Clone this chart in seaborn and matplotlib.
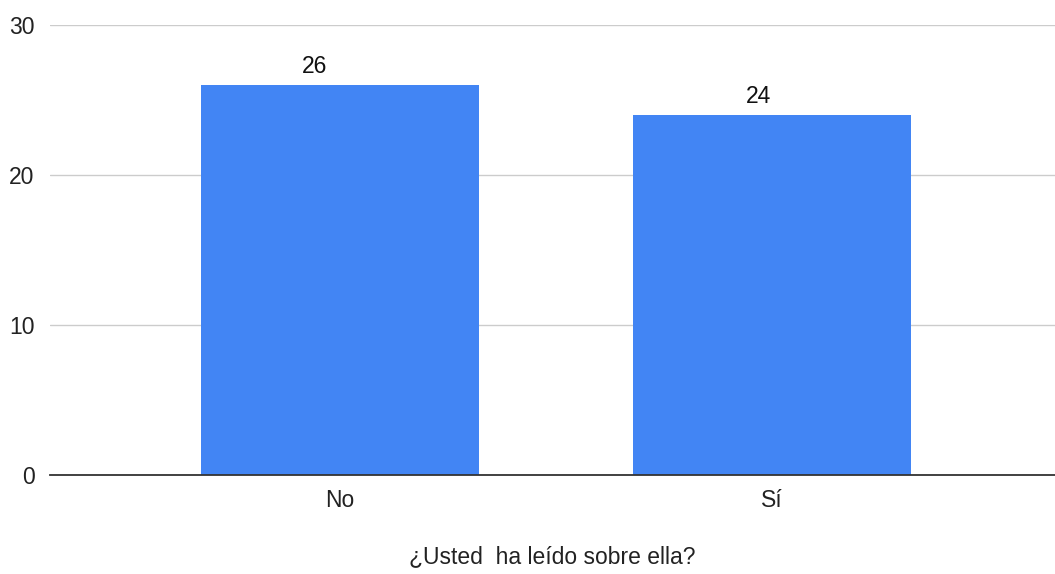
import matplotlib
matplotlib.use("Agg")
import matplotlib.pyplot as plt
import seaborn as sns
import pandas as pd

categories = ["No", "Sí"]
counts = [26, 24]
y_ticks = [0, 10, 20, 30]
x_title = "¿Usted  ha leído sobre ella?"

sns.set_theme(style="white")
plt.rcParams["font.family"] = ["Liberation Sans", "DejaVu Sans"]

df = pd.DataFrame({"respuesta": categories, "total": counts})

fig = plt.figure(figsize=(10.55, 5.74), dpi=100)
ax = fig.add_axes([50 / 1055, 1 - 475 / 574, 1 - 50 / 1055, 450 / 574])

sns.barplot(data=df, x="respuesta", y="total", color="#4285F4", saturation=1,
            width=0.645, ax=ax, zorder=3, linewidth=0, edgecolor="none")

ax.set_ylim(0, 30)
ax.set_xlim(-0.671, 1.655)
ax.set_yticks(y_ticks)
ax.yaxis.grid(True, color="#cccccc", linewidth=1, zorder=0)
ax.xaxis.grid(False)
for s in ["top", "right", "left"]:
    ax.spines[s].set_visible(False)
ax.spines["bottom"].set_color("#333333")
ax.spines["bottom"].set_linewidth(1.3)
ax.spines["bottom"].set_zorder(4)

ax.tick_params(axis="y", length=0, pad=11, labelsize=16.5, labelcolor="#222222")
ax.tick_params(axis="x", length=0, pad=10, labelsize=16.5, labelcolor="#222222")

# value labels sit just above each bar, nudged slightly left
label_shift = [-18, -10]
for patch, val, dx in zip(ax.patches, counts, label_shift):
    cx = patch.get_x() + patch.get_width() / 2
    ax.annotate(str(val), xy=(cx, val), xytext=(dx, 5), textcoords="offset points",
                ha="center", va="bottom", fontsize=16.5, color="#111111")

ax.set_ylabel("")
ax.set_xlabel(x_title, fontsize=16.5, color="#222222", labelpad=24)

fig.savefig("out.png", dpi=100, facecolor="white")
